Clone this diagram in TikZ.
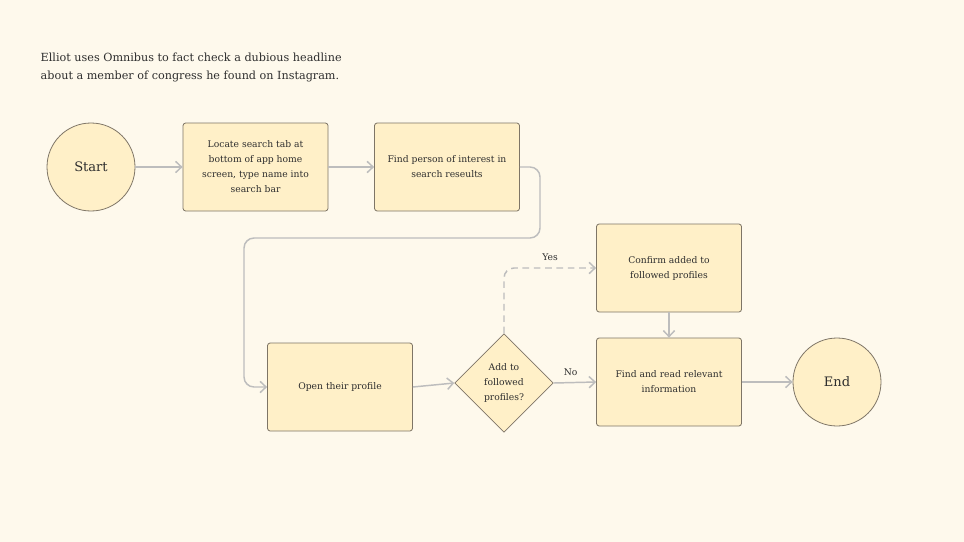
\documentclass[tikz,border=0pt]{standalone}
\usepackage{fontspec}
\setmainfont{DejaVu Serif}
\usetikzlibrary{arrows.meta,shapes.geometric}
\definecolor{paper}{HTML}{FEF9EC}
\definecolor{cardfill}{HTML}{FFF0C8}
\definecolor{cardline}{HTML}{7E7566}
\definecolor{ink}{HTML}{2E2E2E}
\definecolor{wire}{HTML}{BDBDBD}
\begin{document}
\begin{tikzpicture}[x=0.75pt,y=-0.75pt,
  every node/.style={text=ink},
  stepbox/.style={draw=cardline,fill=cardfill,line width=0.6pt,rounded corners=2pt,
    minimum width=108.75pt,minimum height=66pt,inner sep=0pt,
    align=center,font=\fontsize{6.9}{11.25}\selectfont},
  terminal/.style={circle,draw=cardline,fill=cardfill,line width=0.6pt,
    minimum size=66pt,inner sep=0pt,font=\fontsize{9.8}{11}\selectfont},
  choice/.style={diamond,draw=cardline,fill=cardfill,line width=0.6pt,
    minimum width=74pt,minimum height=74pt,inner sep=0pt,
    align=center,font=\fontsize{6.9}{11}\selectfont},
  conn/.style={draw=wire,line width=1.1pt,-{Straight Barb[length=4.5pt,width=8.5pt,line width=1.1pt]}},
  tag/.style={font=\fontsize{6.9}{8}\selectfont}]
  % page
  \fill[paper] (0,0) rectangle (964,542);
  \useasboundingbox (0,0) rectangle (964,542);

  % heading
  \node[anchor=west,align=left,font=\fontsize{8.4}{13.5}\selectfont] (heading) at (36,67)
    {Elliot uses Omnibus to fact check a dubious headline\\about a member of congress he found on Instagram.};

  % flow nodes
  \node[terminal] (start) at (91,167) {Start};
  \node[stepbox] (locate) at (255.5,167) {Locate search tab at\\bottom of app home\\screen, type name into\\search bar};
  \node[stepbox] (findp) at (447,167) {Find person of interest in\\search reseults};
  \node[stepbox] (open) at (340,387) {Open their profile};
  \node[choice] (ask) at (504,383) {Add to\\followed\\profiles?};
  \node[stepbox] (confirm) at (669,268) {Confirm added to\\followed profiles};
  \node[stepbox] (read) at (669,382) {Find and read relevant\\information};
  \node[terminal] (finish) at (837,382) {End};

  % bend points of the wrap-around connector
  \coordinate (bendA) at (540,238);
  \coordinate (bendB) at (244,238);

  % connectors
  \draw[conn] (start) -- (locate);
  \draw[conn] (locate) -- (findp);
  \draw[conn,rounded corners=7.5pt] (findp.east) -| (bendA) -- (bendB) |- (open.west);
  \draw[conn] (open.east) -- (ask.west);
  \draw[conn,dash pattern=on 5pt off 3.5pt,rounded corners=7.5pt] (ask.north) |- (confirm.west)
    node[tag,pos=0.75,above=1.5pt] (yes) {Yes};
  \draw[conn] (ask.east) -- (read.west) node[tag,pos=0.4,above=1.5pt] (no) {No};
  \draw[conn] (confirm.south) -- (read.north);
  \draw[conn] (read.east) -- (finish.west);
\end{tikzpicture}
\end{document}
